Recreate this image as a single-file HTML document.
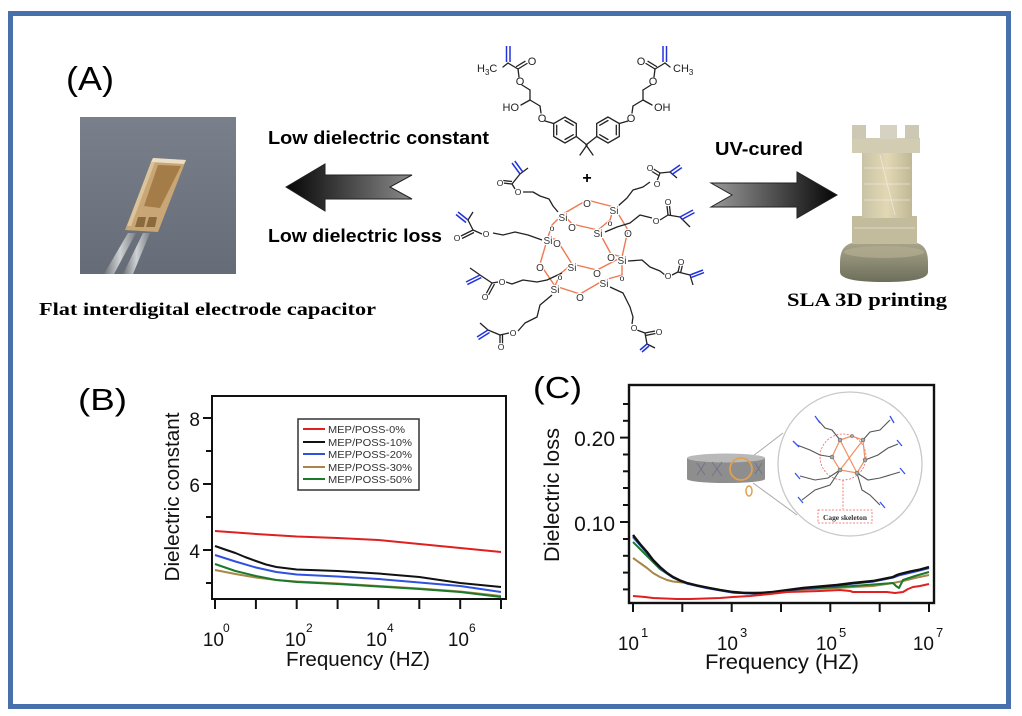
<!DOCTYPE html>
<html><head><meta charset="utf-8"><style>
html,body{margin:0;padding:0;background:#fff;width:1022px;height:716px;overflow:hidden}
svg{display:block}
.s{font-family:"Liberation Sans",sans-serif}
.sb{font-family:"Liberation Sans",sans-serif;font-weight:bold}
.rb{font-family:"Liberation Serif",serif;font-weight:bold}
.at{font-family:"Liberation Sans",sans-serif;font-size:10px;fill:#333;stroke:#fff;stroke-width:2.5px;paint-order:stroke;text-anchor:middle}
.ao{font-family:"Liberation Sans",sans-serif;font-size:8.5px;fill:#222;stroke:#fff;stroke-width:2px;paint-order:stroke;text-anchor:middle}
</style></head><body>
<svg width="1022" height="716" viewBox="0 0 1022 716" xmlns="http://www.w3.org/2000/svg">
<defs>
<linearGradient id="ga" x1="0" x2="1" y1="0" y2="0"><stop offset="0" stop-color="#050505"/><stop offset="1" stop-color="#8a8a8a"/></linearGradient>
<linearGradient id="gb" x1="0" x2="1" y1="0" y2="0"><stop offset="0" stop-color="#9a9a9a"/><stop offset="1" stop-color="#050505"/></linearGradient>
<linearGradient id="gp" x1="0" x2="0" y1="0" y2="1"><stop offset="0" stop-color="#7a808b"/><stop offset="1" stop-color="#666c77"/></linearGradient>
<linearGradient id="gr" x1="0" x2="1" y1="0" y2="0"><stop offset="0" stop-color="#c9c3a6"/><stop offset="0.5" stop-color="#e2d8b4"/><stop offset="1" stop-color="#bfb796"/></linearGradient>
<linearGradient id="gbase" x1="0" x2="0" y1="0" y2="1"><stop offset="0" stop-color="#a8a48a"/><stop offset="1" stop-color="#6d6e5a"/></linearGradient>
<linearGradient id="gt" x1="0" x2="1" y1="0" y2="0"><stop offset="0" stop-color="#6f7378"/><stop offset="0.5" stop-color="#cfd2d5"/><stop offset="1" stop-color="#7c8084"/></linearGradient>
</defs>
<rect x="0" y="0" width="1022" height="716" fill="#fff"/>
<!-- frame -->
<rect x="10.5" y="13.5" width="998" height="693" fill="none" stroke="#4770ad" stroke-width="5"/>

<!-- (A) -->
<text x="66" y="90" class="s" font-size="33" textLength="48" lengthAdjust="spacingAndGlyphs">(A)</text>

<!-- photo -->
<rect x="80" y="117" width="156" height="157" fill="url(#gp)"/>
<polygon points="128,233 136,233 114,274 104,274" fill="url(#gt)"/>
<polygon points="143,233 150,233 133,274 123,274" fill="url(#gt)"/>
<polygon points="153,158 186,160 158,232 125,230" fill="#c9a676"/>
<polygon points="153,158 186,160 184,164 151,162" fill="#eadfc6"/>
<polygon points="158,165 181,166 160,208 144,206" fill="#a47c48"/>
<polygon points="151,162 155,162 131,226 127,226" fill="#dcc49a"/>
<polygon points="138,217 146,217 144,227 135,227" fill="#8a6a3c"/>
<polygon points="149,217 157,217 155,227 146,227" fill="#8a6a3c"/>

<text x="39" y="315" class="rb" font-size="18" textLength="337" lengthAdjust="spacingAndGlyphs">Flat interdigital electrode capacitor</text>

<!-- texts A -->
<text x="268" y="144" class="sb" font-size="18" textLength="221" lengthAdjust="spacingAndGlyphs">Low dielectric constant</text>
<text x="268" y="242" class="sb" font-size="18" textLength="174" lengthAdjust="spacingAndGlyphs">Low dielectric loss</text>
<polygon points="286,187 325,164 325,175 412,175 390,187 412,199 325,199 325,211" fill="url(#ga)" stroke="#222" stroke-width="1"/>

<text x="715" y="155" class="sb" font-size="18" textLength="88" lengthAdjust="spacingAndGlyphs">UV-cured</text>
<polygon points="711,183 797,183 797,172 837,195 797,218 797,207 711,207 732,195" fill="url(#gb)" stroke="#222" stroke-width="1"/>

<!-- rook -->
<g>
<path d="M840,262 Q840,246 852,243 L917,243 Q928,246 928,262 L928,272 Q928,282 884,282 Q840,282 840,272 Z" fill="url(#gbase)"/>
<ellipse cx="884" cy="252" rx="40" ry="6" fill="#b3ae92" opacity="0.7"/>
<rect x="852" y="216" width="65" height="28" fill="#c2bc9c"/>
<rect x="862" y="152" width="50" height="66" fill="url(#gr)"/>
<rect x="852" y="138" width="68" height="15" fill="#d2ccb2"/>
<rect x="852" y="125" width="14" height="14" fill="#cdc8b4"/>
<rect x="880" y="125" width="17" height="14" fill="#d6d2c2"/>
<rect x="905" y="125" width="14" height="14" fill="#cdc8b4"/>
<g stroke="#f2efe6" stroke-width="0.8" opacity="0.8">
<line x1="864" y1="168" x2="910" y2="168"/><line x1="864" y1="184" x2="910" y2="184"/><line x1="864" y1="200" x2="910" y2="200"/>
<line x1="854" y1="228" x2="915" y2="228"/><line x1="880" y1="155" x2="895" y2="215"/>
</g>
</g>
<text x="787" y="306" class="rb" font-size="18.5" textLength="160" lengthAdjust="spacingAndGlyphs">SLA 3D printing</text>

<!-- top molecule -->
<g fill="none" stroke="#222" stroke-width="1.3" stroke-linecap="round">
<g>
<line x1="503" y1="67" x2="508" y2="63"/>
<line x1="508" y1="63" x2="518" y2="69"/>
<line x1="518" y1="69" x2="527" y2="63.5"/><line x1="516.5" y1="66.5" x2="525" y2="61.3"/>
<line x1="518" y1="69" x2="519" y2="77"/>
<line x1="522" y1="85" x2="530" y2="90"/>
<line x1="530" y1="90" x2="530" y2="100"/>
<line x1="530" y1="100" x2="521" y2="105"/>
<line x1="530" y1="100" x2="540" y2="106"/>
<line x1="540" y1="106" x2="541" y2="113"/>
<line x1="545" y1="121" x2="553.7" y2="123.5"/>
<polygon points="565,117 576.3,123.5 576.3,136.5 565,143 553.7,136.5 553.7,123.5"/>
<line x1="565" y1="120.5" x2="573.3" y2="125.3"/><line x1="573.3" y1="134.7" x2="565" y2="139.5"/><line x1="556.7" y1="134.7" x2="556.7" y2="125.3"/>
<line x1="576.3" y1="136.5" x2="587" y2="145"/>
<line x1="587" y1="145" x2="580" y2="155"/>
</g>
<g transform="translate(1173,0) scale(-1,1)">
<line x1="503" y1="67" x2="508" y2="63"/>
<line x1="508" y1="63" x2="518" y2="69"/>
<line x1="518" y1="69" x2="527" y2="63.5"/><line x1="516.5" y1="66.5" x2="525" y2="61.3"/>
<line x1="518" y1="69" x2="519" y2="77"/>
<line x1="522" y1="85" x2="530" y2="90"/>
<line x1="530" y1="90" x2="530" y2="100"/>
<line x1="530" y1="100" x2="521" y2="105"/>
<line x1="530" y1="100" x2="540" y2="106"/>
<line x1="540" y1="106" x2="541" y2="113"/>
<line x1="545" y1="121" x2="553.7" y2="123.5"/>
<polygon points="565,117 576.3,123.5 576.3,136.5 565,143 553.7,136.5 553.7,123.5"/>
<line x1="565" y1="120.5" x2="573.3" y2="125.3"/><line x1="573.3" y1="134.7" x2="565" y2="139.5"/><line x1="556.7" y1="134.7" x2="556.7" y2="125.3"/>
<line x1="576.3" y1="136.5" x2="587" y2="145"/>
<line x1="587" y1="145" x2="580" y2="155"/>
</g>
</g>
<g stroke="#2233dd" stroke-width="1.5">
<line x1="506.5" y1="62" x2="506.5" y2="46"/><line x1="510" y1="62" x2="510" y2="46"/>
<line x1="663" y1="62" x2="663" y2="46"/><line x1="666.5" y1="62" x2="666.5" y2="46"/>
</g>
<g font-family="Liberation Sans, sans-serif" font-size="11" fill="#222">
<text x="477" y="72">H<tspan font-size="8" dy="3">3</tspan><tspan dy="-3">C</tspan></text>
<text x="673" y="72">CH<tspan font-size="8" dy="3">3</tspan></text>
<text x="532" y="65" text-anchor="middle">O</text>
<text x="641" y="65" text-anchor="middle">O</text>
<text x="520" y="85" text-anchor="middle">O</text>
<text x="653" y="85" text-anchor="middle">O</text>
<text x="542" y="122" text-anchor="middle">O</text>
<text x="631" y="122" text-anchor="middle">O</text>
<text x="519" y="111" text-anchor="end">HO</text>
<text x="654" y="111">OH</text>
</g>
<text x="587" y="183" class="sb" font-size="16" text-anchor="middle">+</text>

<!-- POSS orange bonds -->
<g stroke="#f07850" stroke-width="1.4" fill="none">
<polyline points="563,214 587,200 614,207"/>
<polyline points="563,214 572,224 598,230"/>
<polyline points="614,207 628,230 622,257"/>
<polyline points="598,230 611,254 622,257"/>
<polyline points="563,214 552,225 548,237"/>
<polyline points="548,237 557,240 572,264"/>
<polyline points="548,237 540,264 555,286"/>
<polyline points="572,264 597,270 622,257"/>
<polyline points="555,286 580,294 604,280"/>
<polyline points="572,264 560,274 555,286"/>
<polyline points="622,257 622,275 604,280"/>
<polyline points="614,207 610,220 598,230"/>
</g>
<!-- arms -->
<g fill="none" stroke="#222" stroke-width="1.3" stroke-linejoin="round">
<polyline points="558,212 553,206 549,199 540,196 533,192 523,192"/>
<polyline points="515,189 512,184 520,174 528,168"/>
<line x1="512" y1="184" x2="503" y2="183"/><line x1="512" y1="181.5" x2="503" y2="180.5"/>
<polyline points="617,207 627,198 633,190 643,187 650,182"/>
<polyline points="657,181 660,173 670,172 677,178"/>
<line x1="660" y1="173" x2="652" y2="168"/><line x1="658.5" y1="175.5" x2="650.5" y2="170.5"/>
<polyline points="605,232 617,227 630,223 640,215 652,218"/>
<polyline points="660,220 668,215 680,217 690,227"/>
<line x1="668" y1="215" x2="667" y2="206"/><line x1="670.5" y1="215" x2="669.5" y2="206"/>
<polyline points="542,240 528,235 515,232 503,235 493,233"/>
<polyline points="482,234 473,230 468,220 473,212"/>
<line x1="473" y1="230" x2="461" y2="236"/><line x1="474" y1="232.5" x2="462" y2="238.5"/>
<polyline points="628,261 642,260 650,267 660,271 665,275"/>
<polyline points="672,275 678,272 690,275 693,285"/>
<line x1="678" y1="272" x2="680" y2="264"/><line x1="680.5" y1="273" x2="682.5" y2="265"/>
<polyline points="562,273 547,280 537,282 523,280 512,284 506,282"/>
<polyline points="498,282 492,283 480,275 470,268"/>
<line x1="492" y1="283" x2="486" y2="294"/><line x1="494.5" y1="284" x2="488.5" y2="295"/>
<polyline points="552,295 540,305 537,317 525,323 518,331"/>
<polyline points="509,333 500,335 488,330 480,323"/>
<line x1="500" y1="335" x2="500" y2="344"/><line x1="502.5" y1="335" x2="502.5" y2="344"/>
<polyline points="610,287 623,293 630,307 633,317 632,324"/>
<polyline points="637,330 645,333 647,344 655,348"/>
<line x1="645" y1="333" x2="655" y2="331"/><line x1="645.5" y1="335.5" x2="655.5" y2="333.5"/>
</g>
<g stroke="#2233dd" stroke-width="1.5">
<line x1="520" y1="174" x2="512" y2="163"/><line x1="522.8" y1="172" x2="514.8" y2="161"/>
<line x1="670" y1="172" x2="680" y2="165"/><line x1="671.8" y1="174.6" x2="681.8" y2="167.6"/>
<line x1="680" y1="217" x2="693" y2="210"/><line x1="681.5" y1="219.6" x2="694.5" y2="212.6"/>
<line x1="468" y1="220" x2="458" y2="212"/><line x1="466" y1="222.5" x2="456" y2="214.5"/>
<line x1="690" y1="275" x2="703" y2="270"/><line x1="691" y1="277.6" x2="704" y2="272.6"/>
<line x1="480" y1="275" x2="466" y2="282"/><line x1="481.3" y1="277.6" x2="467.3" y2="284.6"/>
<line x1="488" y1="330" x2="477" y2="337"/><line x1="489.5" y1="332.5" x2="478.5" y2="339.5"/>
<line x1="647" y1="344" x2="640" y2="350"/><line x1="649" y1="346" x2="642" y2="352"/>
</g>
<g>
<text x="563" y="221" class="at">Si</text>
<text x="614" y="214" class="at">Si</text>
<text x="598" y="237" class="at">Si</text>
<text x="548" y="244" class="at">Si</text>
<text x="572" y="271" class="at">Si</text>
<text x="622" y="264" class="at">Si</text>
<text x="555" y="293" class="at">Si</text>
<text x="604" y="287" class="at">Si</text>
<text x="587" y="207" class="at">O</text>
<text x="572" y="231" class="at">O</text>
<text x="628" y="237" class="at">O</text>
<text x="557" y="247" class="at">O</text>
<text x="540" y="271" class="at">O</text>
<text x="611" y="261" class="at">O</text>
<text x="597" y="277" class="at">O</text>
<text x="580" y="301" class="at">O</text>
<text x="552" y="231" class="ao">o</text>
<text x="610" y="226" class="ao">o</text>
<text x="560" y="280" class="ao">o</text>
<text x="622" y="281" class="ao">o</text>
<text x="518" y="195" class="ao">O</text>
<text x="500" y="186" class="ao">O</text>
<text x="657" y="187" class="ao">O</text>
<text x="650" y="171" class="ao">O</text>
<text x="656" y="224" class="ao">O</text>
<text x="668" y="205" class="ao">O</text>
<text x="486" y="237" class="ao">O</text>
<text x="457" y="241" class="ao">O</text>
<text x="668" y="279" class="ao">O</text>
<text x="681" y="265" class="ao">O</text>
<text x="502" y="285" class="ao">O</text>
<text x="485" y="300" class="ao">O</text>
<text x="513" y="336" class="ao">O</text>
<text x="501" y="350" class="ao">O</text>
<text x="634" y="331" class="ao">O</text>
<text x="659" y="335" class="ao">O</text>
</g>

<!-- (B) chart -->
<text x="78" y="410" class="s" font-size="31" textLength="49" lengthAdjust="spacingAndGlyphs">(B)</text>
<g stroke="#111" stroke-width="2" fill="none">
<rect x="212" y="396" width="294" height="203"/>
<line x1="212" y1="418" x2="203" y2="418"/><line x1="212" y1="484" x2="203" y2="484"/><line x1="212" y1="550" x2="203" y2="550"/>
<line x1="212" y1="451" x2="206" y2="451"/><line x1="212" y1="517" x2="206" y2="517"/><line x1="212" y1="583" x2="206" y2="583"/>
<line x1="215" y1="599" x2="215" y2="609"/><line x1="255.9" y1="599" x2="255.9" y2="609"/><line x1="296.7" y1="599" x2="296.7" y2="609"/><line x1="337.6" y1="599" x2="337.6" y2="609"/><line x1="378.4" y1="599" x2="378.4" y2="609"/><line x1="419.3" y1="599" x2="419.3" y2="609"/><line x1="460.2" y1="599" x2="460.2" y2="609"/><line x1="501" y1="599" x2="501" y2="609"/>
</g>
<g class="s" font-size="19" fill="#111" text-anchor="end">
<text x="200" y="426">8</text><text x="200" y="492">6</text><text x="200" y="558">4</text>
</g>
<g class="s" fill="#111">
<text x="224" y="646" font-size="19" text-anchor="end">10</text><text x="223" y="632" font-size="12">0</text>
<text x="306" y="646" font-size="19" text-anchor="end">10</text><text x="306" y="632" font-size="12">2</text>
<text x="387" y="646" font-size="19" text-anchor="end">10</text><text x="387" y="632" font-size="12">4</text>
<text x="469" y="646" font-size="19" text-anchor="end">10</text><text x="469" y="632" font-size="12">6</text>
</g>
<text x="286" y="666" class="s" font-size="20" textLength="144" lengthAdjust="spacingAndGlyphs" fill="#111">Frequency (HZ)</text>
<text x="179" y="497" class="s" font-size="20.5" text-anchor="middle" textLength="169" lengthAdjust="spacingAndGlyphs" transform="rotate(-90 179 497)" fill="#111">Dielectric constant</text>
<rect x="298" y="419" width="121" height="71" fill="#fff" stroke="#333" stroke-width="1.5"/>
<g stroke-width="2">
<line x1="303" y1="429" x2="325" y2="429" stroke="#e02020"/>
<line x1="303" y1="442" x2="325" y2="442" stroke="#111"/>
<line x1="303" y1="454" x2="325" y2="454" stroke="#3050e0"/>
<line x1="303" y1="467" x2="325" y2="467" stroke="#a88548"/>
<line x1="303" y1="479" x2="325" y2="479" stroke="#1a7a2a"/>
</g>
<g class="s" font-size="10.5" fill="#333">
<text x="328" y="433" textLength="77" lengthAdjust="spacingAndGlyphs">MEP/POSS-0%</text>
<text x="328" y="446" textLength="84" lengthAdjust="spacingAndGlyphs">MEP/POSS-10%</text>
<text x="328" y="458" textLength="84" lengthAdjust="spacingAndGlyphs">MEP/POSS-20%</text>
<text x="328" y="471" textLength="84" lengthAdjust="spacingAndGlyphs">MEP/POSS-30%</text>
<text x="328" y="483" textLength="84" lengthAdjust="spacingAndGlyphs">MEP/POSS-50%</text>
</g>
<g fill="none" stroke-width="2" stroke-linejoin="round">
<polyline stroke="#e02020" points="215,531 255.9,534 296.7,536.5 337.6,538 378.4,540 419.3,544 460.2,548 501,552"/>
<polyline stroke="#111" points="215,546 225,549.5 235.4,553 245,557 255.9,561 266,564.5 276.3,567 296.7,569.5 337.6,571 378.4,573.5 419.3,577 439.7,580 460.2,583 501,587"/>
<polyline stroke="#3050e0" points="215,555 235.4,561.5 255.9,567.5 276.3,572 296.7,574.5 337.6,576.5 378.4,579 419.3,582.5 460.2,586 501,592"/>
<polyline stroke="#a88548" points="215,570 235.4,574 255.9,577.5 276.3,580 296.7,581.5 337.6,583.5 378.4,586 419.3,588.5 460.2,591.5 501,596"/>
<polyline stroke="#1a7a2a" points="215,564 235.4,571 255.9,576 276.3,580 296.7,582 337.6,584 378.4,586.5 419.3,589 460.2,592 501,597"/>
</g>

<!-- (C) chart -->
<text x="533" y="398" class="s" font-size="31" textLength="49" lengthAdjust="spacingAndGlyphs">(C)</text>
<!-- inset -->
<g>
<line x1="753" y1="456" x2="783" y2="433" stroke="#aaa" stroke-width="1"/>
<line x1="753" y1="483" x2="797" y2="515" stroke="#aaa" stroke-width="1"/>
<circle cx="850" cy="464" r="72" fill="#fff" stroke="#c8c8c8" stroke-width="1.3"/>
<rect x="687" y="458" width="78" height="21" fill="#8e8e8e"/>
<ellipse cx="726" cy="479" rx="39" ry="4" fill="#8e8e8e"/>
<ellipse cx="726" cy="458" rx="39" ry="4.5" fill="#b9b9b9"/>
<g stroke="#6f6f8a" stroke-width="0.8">
<line x1="697" y1="463" x2="705" y2="475"/><line x1="705" y1="463" x2="697" y2="475"/>
<line x1="712" y1="462" x2="722" y2="476"/><line x1="722" y1="462" x2="712" y2="476"/>
<line x1="755" y1="463" x2="762" y2="474"/><line x1="762" y1="463" x2="755" y2="474"/>
</g>
<circle cx="741" cy="469" r="11" fill="none" stroke="#e0a050" stroke-width="1.8"/>
<ellipse cx="749" cy="491" rx="3" ry="5" fill="none" stroke="#e0a050" stroke-width="1.5"/>
<circle cx="843" cy="457" r="23" fill="none" stroke="#f06060" stroke-width="0.8" stroke-dasharray="2,1.5"/>
<g fill="none" stroke="#555" stroke-width="1.1">
<polyline points="840,440 832,430 825,428 818,420"/>
<polyline points="863,440 870,432 880,430 890,420"/>
<polyline points="832,457 820,455 810,450 797,445"/>
<polyline points="865,460 878,455 888,448 898,444"/>
<polyline points="840,470 828,478 815,480 800,476"/>
<polyline points="857,473 868,480 880,478 900,472"/>
<polyline points="840,470 830,485 815,490 802,500"/>
<polyline points="857,473 862,490 870,495 880,505"/>
</g>
<g fill="none" stroke="#f09060" stroke-width="1.2">
<polygon points="840,440 852,436 863,440 865,460 857,473 840,470 832,457"/>
<line x1="840" y1="440" x2="857" y2="473"/><line x1="863" y1="440" x2="840" y2="470"/>
</g>
<g fill="#aaa" stroke="#555" stroke-width="0.5">
<circle cx="840" cy="440" r="2"/><circle cx="863" cy="440" r="2"/><circle cx="832" cy="457" r="2"/><circle cx="865" cy="460" r="2"/><circle cx="840" cy="470" r="2"/><circle cx="857" cy="473" r="2"/><circle cx="852" cy="436" r="1.6"/>
</g>
<g stroke="#3355ee" stroke-width="1.3">
<line x1="815" y1="416" x2="820" y2="423"/><line x1="890" y1="416" x2="894" y2="423"/>
<line x1="793" y1="441" x2="799" y2="447"/><line x1="897" y1="440" x2="902" y2="446"/>
<line x1="795" y1="473" x2="800" y2="479"/><line x1="900" y1="468" x2="905" y2="474"/>
<line x1="798" y1="497" x2="803" y2="503"/><line x1="880" y1="502" x2="885" y2="508"/>
</g>
<line x1="843" y1="480" x2="843" y2="509" stroke="#f06060" stroke-width="0.8" stroke-dasharray="2,1.5"/>
<rect x="818" y="510" width="54" height="13" fill="#fff" stroke="#f06060" stroke-width="0.8" stroke-dasharray="2,1.5"/>
<text x="845" y="520" class="rb" font-size="7.5" text-anchor="middle" fill="#333" textLength="44" lengthAdjust="spacingAndGlyphs">Cage skeleton</text>
</g>
<g stroke="#111" stroke-width="2.4" fill="none">
<rect x="629" y="385" width="305" height="218"/>
</g>
<g stroke="#111" stroke-width="2">
<line x1="629" y1="437.6" x2="620" y2="437.6"/><line x1="629" y1="522" x2="620" y2="522"/>
<line x1="629" y1="404" x2="623" y2="404"/><line x1="629" y1="420.8" x2="623" y2="420.8"/><line x1="629" y1="454.5" x2="623" y2="454.5"/><line x1="629" y1="471.3" x2="623" y2="471.3"/><line x1="629" y1="488" x2="623" y2="488"/><line x1="629" y1="505" x2="623" y2="505"/><line x1="629" y1="539" x2="623" y2="539"/><line x1="629" y1="555.8" x2="623" y2="555.8"/><line x1="629" y1="572.6" x2="623" y2="572.6"/><line x1="629" y1="589.4" x2="623" y2="589.4"/>
<line x1="633" y1="603" x2="633" y2="612"/><line x1="682.3" y1="603" x2="682.3" y2="612"/><line x1="731.7" y1="603" x2="731.7" y2="612"/><line x1="781" y1="603" x2="781" y2="612"/><line x1="830.3" y1="603" x2="830.3" y2="612"/><line x1="879.7" y1="603" x2="879.7" y2="612"/><line x1="929" y1="603" x2="929" y2="612"/>
</g>
<g class="s" font-size="21" fill="#111" text-anchor="end">
<text x="615" y="446">0.20</text><text x="615" y="531">0.10</text>
</g>
<g class="s" fill="#111">
<text x="639" y="650" font-size="19" text-anchor="end">10</text><text x="641" y="637" font-size="13">1</text>
<text x="738" y="650" font-size="19" text-anchor="end">10</text><text x="740" y="637" font-size="13">3</text>
<text x="837" y="650" font-size="19" text-anchor="end">10</text><text x="839" y="637" font-size="13">5</text>
<text x="934" y="650" font-size="19" text-anchor="end">10</text><text x="936" y="637" font-size="13">7</text>
</g>
<text x="705" y="669" class="s" font-size="21" textLength="154" lengthAdjust="spacingAndGlyphs" fill="#111">Frequency (HZ)</text>
<text x="559" y="495" class="s" font-size="21.5" text-anchor="middle" textLength="134" lengthAdjust="spacingAndGlyphs" transform="rotate(-90 559 495)" fill="#111">Dielectric loss</text>
<g fill="none" stroke-width="2" stroke-linejoin="round">
<polyline stroke="#a88548" points="633,558 640,563 647,568 653,573 660,577 667,580 673,581.5 687,583 707,587.5 733,592 753,593 773,592 803,589.5 837,588 853,587 873,586 893,583 903,581 915,578 929,575"/>
<polyline stroke="#1a7a2a" points="633,542 640,549 647,556 660,569 673,577.5 687,583.5 707,588 733,592.5 753,593.5 773,592 803,589 837,587 853,586 873,584.5 893,583 896,586 899,588 903,580 915,576 929,572"/>
<polyline stroke="#3050e0" stroke-width="2.2" points="633,537 647,553 660,568 673,577.5 687,583.5 707,588 733,592.5 753,593.5 773,592.5 803,588.5 837,585.5 853,583.5 873,581.5 893,577.5 900,575 915,571.5 929,568"/>
<polyline stroke="#111" stroke-width="2.4" points="633,535 640,544 647,552 653,560 660,567 667,573 673,577 680,580.5 687,583 697,585.5 707,587.5 720,590 733,592 743,592.8 753,593 763,592.8 773,592 788,590 803,588 820,586.5 837,585 845,584 853,583 863,582 873,581 883,579 893,577 897,575 900,574 910,571.5 920,569.5 929,567"/>
<polyline stroke="#e02020" points="633,596 645,597 653,598 665,598.5 677,599 690,599 705,598.5 720,598 733,597 750,596 770,594 787,592 805,591.5 820,591 840,590 850,591 853,592 870,592 887,592 895,593 903,592 908,589 913,587 920,586 929,584"/>
</g>
</svg>
</body></html>
